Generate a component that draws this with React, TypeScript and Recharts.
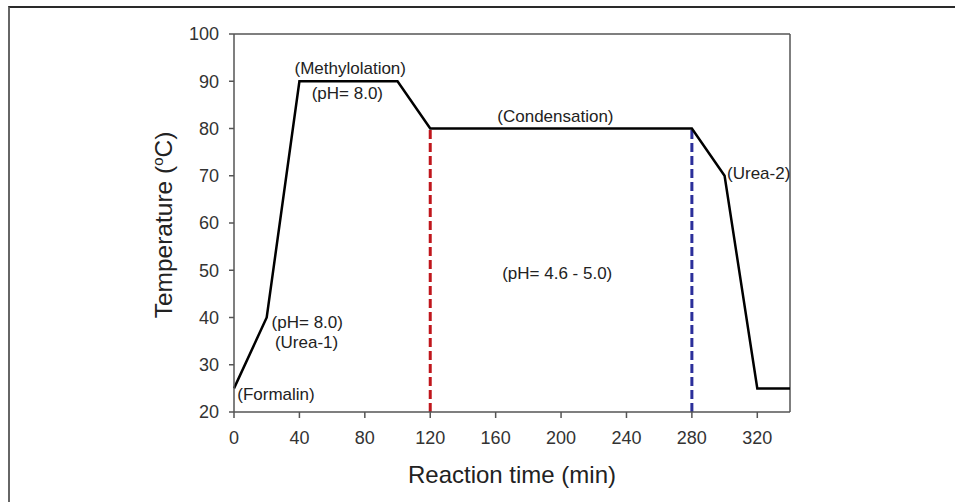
import { ComposedChart, Line, XAxis, YAxis, ReferenceLine, ReferenceDot } from "recharts";

// reaction profile
const times = [0, 20, 40, 100, 120, 280, 300, 320, 340];
const temps = [25, 40, 90, 90, 80, 80, 70, 25, 25];

const xTicks = [0, 40, 80, 120, 160, 200, 240, 280, 320];
const yTicks = [20, 30, 40, 50, 60, 70, 80, 90, 100];

// stage boundaries (time, from temp, to temp)
const acidStart = { time: 120, from: 20, to: 80 };
const acidEnd = { time: 280, from: 20, to: 80 };

// annotations in data units (left edge, vertical centre)
const noteText = [
  "(Formalin)",
  "(pH= 8.0)",
  "(Urea-1)",
  "(Methylolation)",
  "(pH= 8.0)",
  "(Condensation)",
  "(pH= 4.6 - 5.0)",
  "(Urea-2)",
];
const noteX = [2.0, 23.0, 25, 37.0, 47.5, 161.0, 164.0, 301.5];
const noteY = [23.8, 39.0, 34.8, 92.8, 87.4, 82.6, 49.4, 70.6];

const data = times.map((t, i) => ({ time: t, temp: temps[i] }));

const FONT = "Arial, 'Liberation Sans', Helvetica, sans-serif";
const TEXT = "#222";
const AXIS = "#555";

const noteLabel = (text: string) => (props: any) => {
  const vb = props.viewBox || {};
  const x = (vb.x ?? 0) + (vb.width ?? 0) / 2;
  const y = (vb.y ?? 0) + (vb.height ?? 0) / 2;
  return (
    <text x={x} y={y} dy="0.35em" textAnchor="start" fontSize={17} fill={TEXT} fontFamily={FONT}>
      {text}
    </text>
  );
};

const xTitle = (props: any) => {
  const vb = props.viewBox || {};
  return (
    <text x={vb.x + vb.width / 2} y={vb.y + 71} textAnchor="middle" fontSize={24} fill={TEXT} fontFamily={FONT}>
      Reaction time (min)
    </text>
  );
};

const yTitle = (props: any) => {
  const vb = props.viewBox || {};
  const cx = 172;
  const cy = vb.y + vb.height / 2 + 2;
  return (
    <text
      x={cx}
      y={cy}
      textAnchor="middle"
      fontSize={24.5}
      fill={TEXT}
      fontFamily={FONT}
      transform={`rotate(-90 ${cx} ${cy})`}
    >
      <tspan>Temperature (</tspan>
      <tspan dy={-9} fontSize={15}>o</tspan>
      <tspan dy={9}>C)</tspan>
    </text>
  );
};

export default function App() {
  return (
    <div style={{ position: "absolute", left: 0, top: 0, width: 955, height: 502, background: "#fff", overflow: "hidden" }}>
      <div
        style={{
          position: "absolute",
          left: 8,
          top: 6,
          width: 960,
          height: 510,
          borderTop: "2px solid #2a2a2a",
          borderLeft: "2px solid #666",
        }}
      />
      <div style={{ position: "absolute", left: 0, top: 0 }}>
        <ComposedChart width={955} height={502} data={data} margin={{ top: 34, right: 165, left: 174, bottom: 60 }}>
          <XAxis
            dataKey="time"
            type="number"
            domain={[0, 340]}
            ticks={xTicks}
            interval={0}
            height={30}
            tickSize={6}
            tickMargin={13}
            stroke={AXIS}
            strokeWidth={1.5}
            tick={{ fontSize: 18, fill: "#333", fontFamily: FONT }}
            label={{ content: xTitle }}
          />
          <YAxis
            type="number"
            domain={[20, 100]}
            ticks={yTicks}
            interval={0}
            width={60}
            tickSize={5}
            tickMargin={10}
            stroke={AXIS}
            strokeWidth={1.5}
            tick={{ fontSize: 18, fill: "#333", fontFamily: FONT }}
            label={{ content: yTitle }}
          />
          <ReferenceLine y={100} stroke={AXIS} strokeWidth={1.5} />
          <ReferenceLine x={340} stroke={AXIS} strokeWidth={1.5} />
          <ReferenceLine
            segment={[
              { x: acidStart.time, y: acidStart.from },
              { x: acidStart.time, y: acidStart.to },
            ]}
            stroke="#c0161c"
            strokeWidth={3}
            strokeDasharray="9 4"
          />
          <ReferenceLine
            segment={[
              { x: acidEnd.time, y: acidEnd.from },
              { x: acidEnd.time, y: acidEnd.to },
            ]}
            stroke="#2b2f9a"
            strokeWidth={3}
            strokeDasharray="9 4"
          />
          <Line
            dataKey="temp"
            type="linear"
            stroke="#000"
            strokeWidth={2.5}
            dot={false}
            activeDot={false}
            isAnimationActive={false}
          />
          {noteText.map((t, i) => (
            <ReferenceDot
              key={i}
              x={noteX[i]}
              y={noteY[i]}
              r={0}
              fill="none"
              stroke="none"
              label={{ content: noteLabel(t) }}
            />
          ))}
        </ComposedChart>
      </div>
    </div>
  );
}
